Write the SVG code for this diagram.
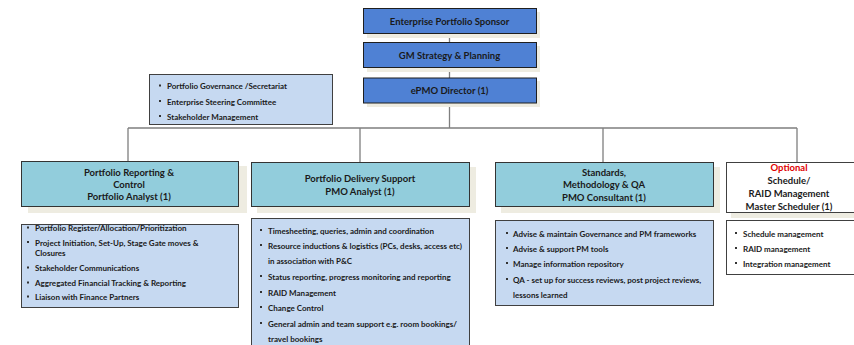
<svg xmlns="http://www.w3.org/2000/svg" width="854" height="345" viewBox="0 0 854 345">
<defs>
<style>
text{font-family:Lato,"Open Sans","Liberation Sans",sans-serif;font-weight:700;fill:#1a1a1a}
.h{font-size:9.5px;text-anchor:middle}
.b{font-size:8px}
.top{fill:#4f81d4;stroke:#1f1f1f;stroke-width:1}
.l2{fill:#92cddc;stroke:#333;stroke-width:1}
.det{fill:#c6d9f1;stroke:#404040;stroke-width:1}
.wht{fill:#fff;stroke:#404040;stroke-width:1}
.sh{fill:#eeece1}
.conn{stroke:#7f7f7f;stroke-width:1.3;fill:none}
.red{fill:#e00000}
</style>
<rect id="bul" width="2" height="2" fill="#333"/>
</defs>
<rect width="854" height="345" fill="#fff"/>

<g id="connectors">
<path class="conn" d="M449.5 34V42M449.5 68V78M449.5 103V128M128 128H797M128 128V161M360 128V162M603 128V162M797 128V162"/>
</g>

<g id="sponsor">
<rect class="sh" x="367" y="12" width="173" height="26"/>
<rect class="top" x="363.5" y="8.5" width="173" height="25"/>
<text class="h" x="449.5" y="24.5">Enterprise Portfolio Sponsor</text>
</g>
<g id="gm">
<rect class="sh" x="367" y="46" width="173" height="26"/>
<rect class="top" x="363.5" y="42.5" width="173" height="25"/>
<text class="h" x="449.5" y="58.5">GM Strategy &amp; Planning</text>
</g>
<g id="director">
<rect class="sh" x="367" y="81" width="173" height="26"/>
<rect class="top" x="363.5" y="78" width="173" height="25"/>
<text class="h" x="449.5" y="94">ePMO Director (1)</text>
</g>

<g id="governance">
<rect class="det" x="149.5" y="74.5" width="183" height="50"/>
<use href="#bul" x="159" y="84.5"/><text class="b" x="167" y="89">Portfolio Governance /Secretariat</text>
<use href="#bul" x="159" y="100"/><text class="b" x="167" y="104.5">Enterprise Steering Committee</text>
<use href="#bul" x="159" y="115"/><text class="b" x="167" y="119.5">Stakeholder Management</text>
</g>

<g id="reporting">
<rect class="sh" x="28" y="166" width="219" height="47"/>
<rect class="l2" x="21.5" y="161.5" width="217" height="45"/>
<text class="h" x="129" y="175.5">Portfolio Reporting &amp;</text>
<text class="h" x="129" y="187.5">Control</text>
<text class="h" x="129" y="199.5">Portfolio Analyst (1)</text>
</g>
<g id="reporting-tasks">
<rect class="det" x="21.5" y="224.5" width="217" height="83"/>
<use href="#bul" x="27" y="226.5"/><text class="b" x="35" y="231">Portfolio Register/Allocation/Prioritization</text>
<use href="#bul" x="27" y="241"/><text class="b" x="35" y="245.5">Project Initiation, Set-Up, Stage Gate moves &amp;</text>
<text class="b" x="35" y="255.5">Closures</text>
<use href="#bul" x="27" y="266.5"/><text class="b" x="35" y="271">Stakeholder Communications</text>
<use href="#bul" x="27" y="281.5"/><text class="b" x="35" y="286">Aggregated Financial Tracking &amp; Reporting</text>
<use href="#bul" x="27" y="295.5"/><text class="b" x="35" y="300">Liaison with Finance Partners</text>
</g>

<g id="delivery">
<rect class="sh" x="257" y="167" width="219" height="46"/>
<rect class="l2" x="251.5" y="162.5" width="218" height="44"/>
<text class="h" x="360" y="181.5">Portfolio Delivery Support</text>
<text class="h" x="360" y="194.5">PMO Analyst (1)</text>
</g>
<g id="delivery-tasks">
<rect class="det" x="251.5" y="218.5" width="218" height="130"/>
<use href="#bul" x="260" y="229"/><text class="b" x="268" y="233.5">Timesheeting, queries, admin and coordination</text>
<use href="#bul" x="260" y="244"/><text class="b" x="268" y="248.5">Resource inductions &amp; logistics (PCs, desks, access etc)</text>
<text class="b" x="268" y="263.5">in association with P&amp;C</text>
<use href="#bul" x="260" y="275"/><text class="b" x="268" y="279.5">Status reporting, progress monitoring and reporting</text>
<use href="#bul" x="260" y="291"/><text class="b" x="268" y="295.5">RAID Management</text>
<use href="#bul" x="260" y="306"/><text class="b" x="268" y="310.5">Change Control</text>
<use href="#bul" x="260" y="322"/><text class="b" x="268" y="326.5">General admin and team support e.g. room bookings/</text>
<text class="b" x="268" y="341.5">travel bookings</text>
</g>

<g id="standards">
<rect class="sh" x="501" y="167" width="219" height="46"/>
<rect class="l2" x="495.5" y="162.5" width="218" height="44"/>
<text class="h" x="604" y="175.5">Standards,</text>
<text class="h" x="604" y="188">Methodology &amp; QA</text>
<text class="h" x="604" y="200.5">PMO Consultant (1)</text>
</g>
<g id="standards-tasks">
<rect class="det" x="495.5" y="220.5" width="218" height="85"/>
<use href="#bul" x="506" y="232"/><text class="b" x="513" y="236.5">Advise &amp; maintain Governance and PM frameworks</text>
<use href="#bul" x="506" y="247"/><text class="b" x="513" y="251.5">Advise &amp; support PM tools</text>
<use href="#bul" x="506" y="262"/><text class="b" x="513" y="266.5">Manage information repository</text>
<use href="#bul" x="506" y="278"/><text class="b" x="513" y="282.5">QA  - set up for success reviews, post project reviews,</text>
<text class="b" x="513" y="297.5">lessons learned</text>
</g>

<g id="scheduler">
<rect class="sh" x="731" y="167" width="130" height="51"/>
<rect class="wht" x="726.5" y="162.5" width="128" height="50"/>
<text class="h red" x="789" y="170.5">Optional</text>
<text class="h" x="789" y="183.5">Schedule/</text>
<text class="h" x="789" y="196.5">RAID Management</text>
<text class="h" x="789" y="209.5">Master Scheduler (1)</text>
</g>
<g id="scheduler-tasks">
<rect class="wht" x="726.5" y="220.5" width="128" height="54"/>
<use href="#bul" x="735" y="232"/><text class="b" x="743" y="236.5">Schedule management</text>
<use href="#bul" x="735" y="247"/><text class="b" x="743" y="251.5">RAID management</text>
<use href="#bul" x="735" y="262"/><text class="b" x="743" y="266.5">Integration management</text>
</g>
</svg>
